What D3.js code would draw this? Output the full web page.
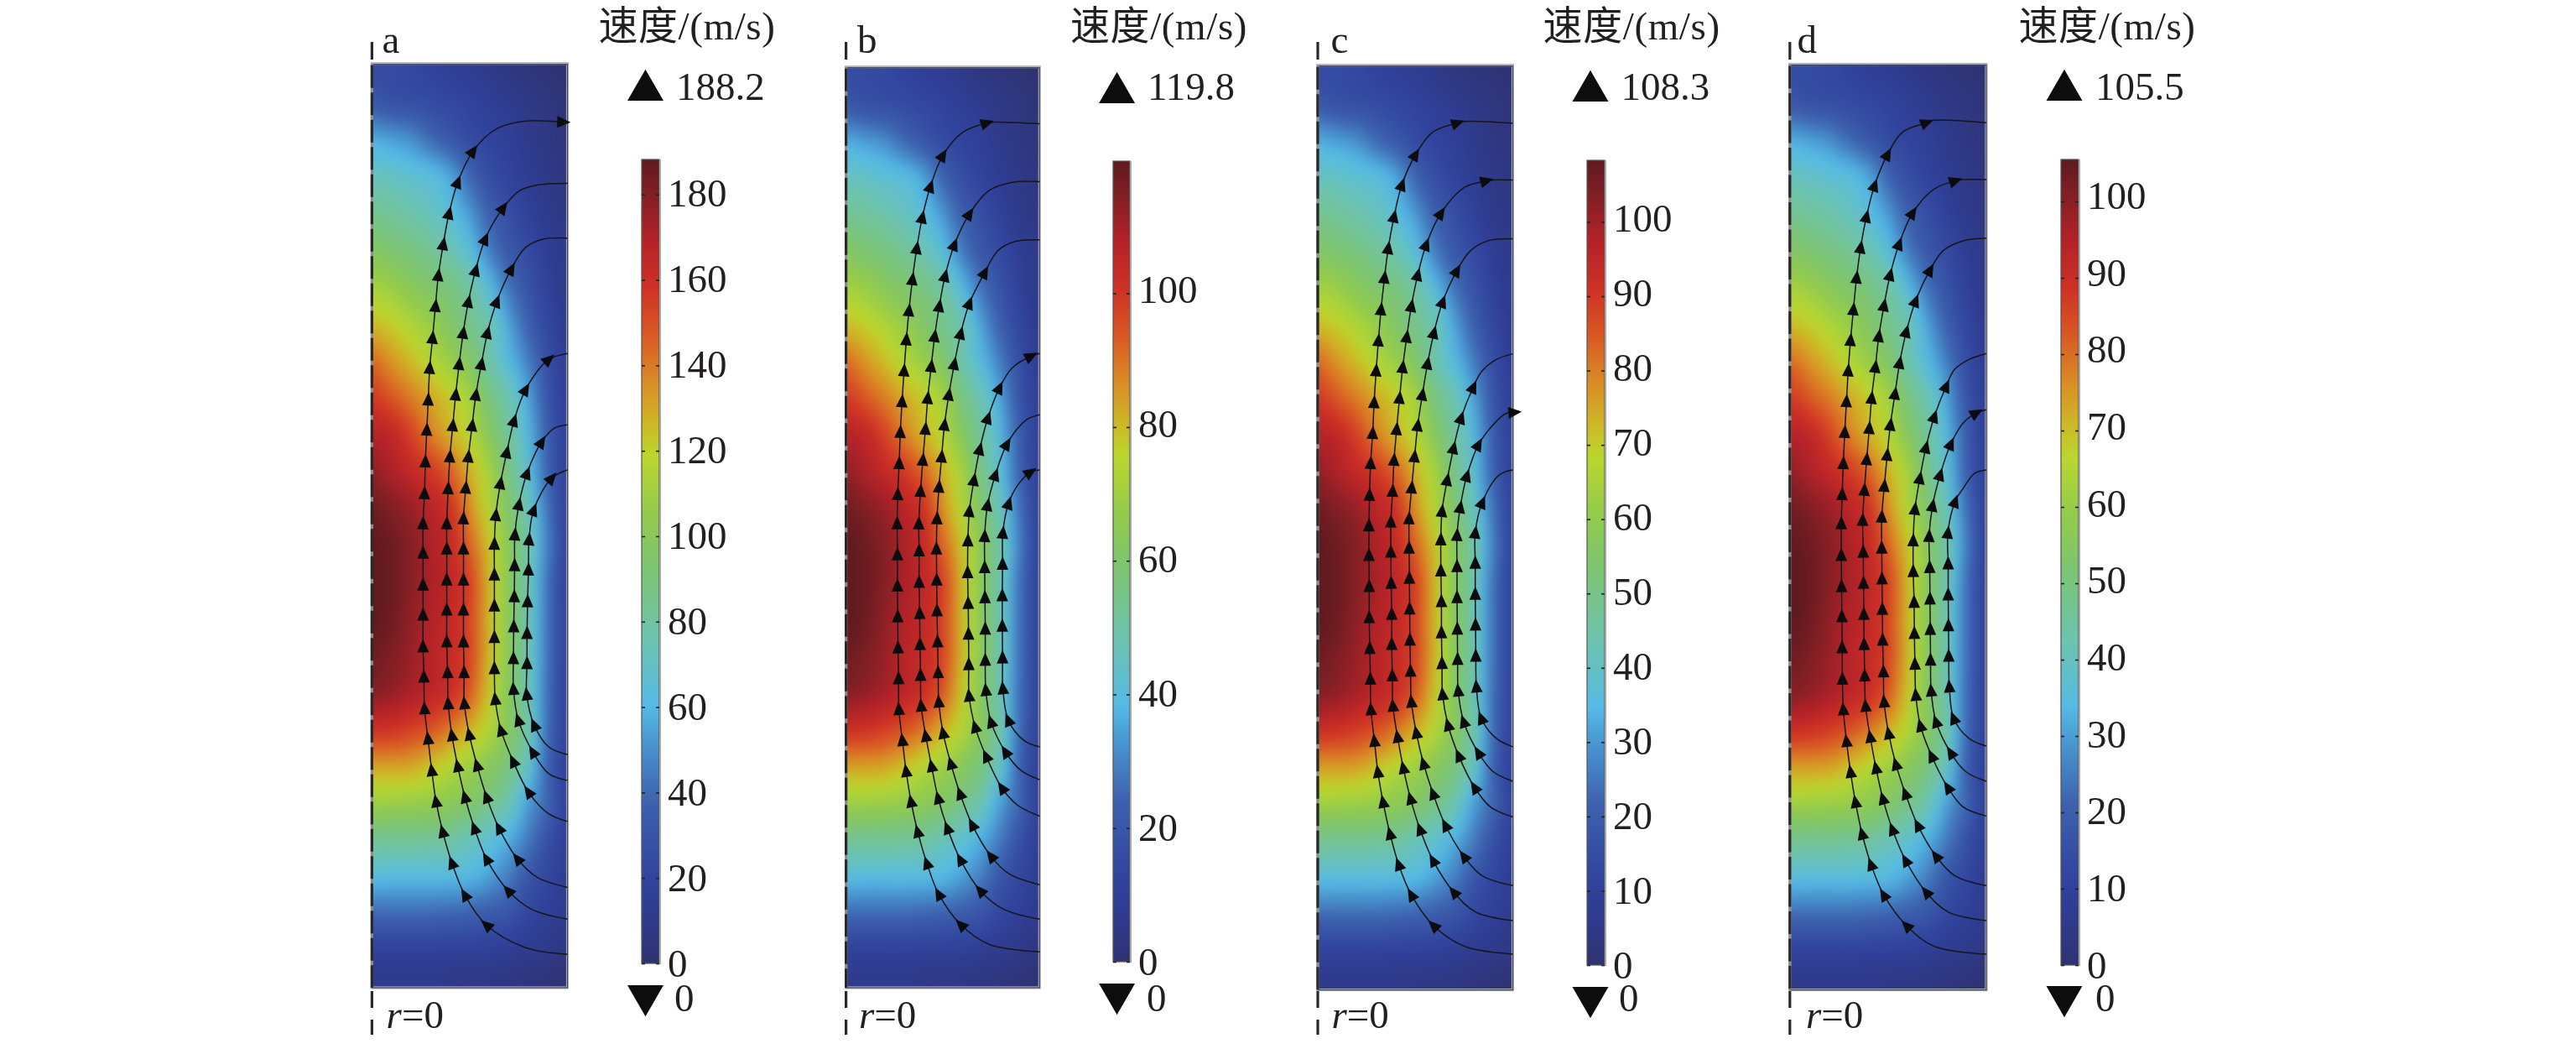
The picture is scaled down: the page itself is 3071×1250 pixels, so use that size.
<!DOCTYPE html>
<html>
<head>
<meta charset="utf-8">
<script src="https://cdnjs.cloudflare.com/ajax/libs/d3/7.8.5/d3.min.js"></script>
<style>
  html, body { margin: 0; padding: 0; background: #fff; }
  #stage { position: relative; width: 3071px; height: 1250px; overflow: hidden; }
  canvas, svg { position: absolute; left: 0; top: 0; }
  text { font-family: "Liberation Serif", "Noto Sans CJK SC", serif; fill: #231f20; }
</style>
</head>
<body>
<div id="stage"><canvas id="field" width="3071" height="1250"></canvas><svg id="plot" width="3071" height="1250"></svg></div>
<script>
// Four axisymmetric velocity fields, one per case.
const caseNames = ["a", "b", "c", "d"];
const caseMaxima = [188.2, 119.8, 108.3, 105.5];
const caseTicks = [
  [0, 20, 40, 60, 80, 100, 120, 140, 160, 180],
  [0, 20, 40, 60, 80, 100],
  [0, 10, 20, 30, 40, 50, 60, 70, 80, 90, 100],
  [0, 10, 20, 30, 40, 50, 60, 70, 80, 90, 100]
];
// Tick labels sit slightly above their ticks, more so toward the top of each bar.
const labelLift = [1, 4.5, 4.5, 7];

// Speed as a share of the case maximum: rows run down the axis, columns run away from r=0.
const speedShare = [
  [.13,.13,.12,.10,.08,.07,.05,.03,.02,.01,.00],
  [.17,.15,.14,.13,.115,.10,.08,.06,.04,.03,.01],
  [.30,.28,.26,.21,.17,.13,.105,.085,.055,.035,.02],
  [.38,.37,.35,.335,.29,.20,.14,.10,.07,.045,.03],
  [.445,.43,.41,.38,.34,.275,.19,.14,.09,.055,.035],
  [.517,.49,.47,.44,.40,.34,.24,.17,.125,.075,.05],
  [.59,.57,.53,.50,.47,.42,.33,.225,.155,.09,.05],
  [.665,.64,.605,.565,.51,.455,.40,.29,.19,.115,.06],
  [.76,.71,.665,.615,.57,.51,.41,.33,.24,.14,.07],
  [.83,.785,.74,.69,.645,.59,.47,.40,.29,.16,.08],
  [.895,.875,.815,.74,.68,.62,.525,.43,.325,.18,.09],
  [.94,.905,.87,.83,.77,.68,.59,.46,.35,.19,.09],
  [.98,.955,.93,.885,.845,.72,.615,.50,.385,.22,.10],
  [1.0,.98,.95,.905,.865,.77,.655,.53,.41,.24,.10],
  [1.0,.985,.95,.91,.875,.815,.67,.53,.40,.22,.10],
  [1.0,.98,.94,.90,.87,.81,.67,.53,.40,.22,.10],
  [.98,.96,.93,.89,.86,.81,.67,.53,.40,.22,.10],
  [.95,.935,.91,.88,.85,.78,.65,.52,.395,.215,.10],
  [.85,.84,.82,.79,.745,.68,.615,.52,.41,.21,.10],
  [.70,.70,.695,.66,.62,.58,.53,.47,.37,.19,.09],
  [.58,.575,.57,.56,.54,.51,.46,.40,.285,.20,.09],
  [.445,.44,.44,.435,.425,.39,.355,.305,.235,.15,.08],
  [.335,.33,.33,.33,.325,.32,.285,.24,.165,.115,.07],
  [.21,.21,.21,.21,.205,.195,.18,.16,.115,.085,.06],
  [.095,.095,.095,.095,.09,.09,.085,.075,.06,.05,.03],
  [.05,.05,.05,.05,.045,.04,.035,.03,.02,.01,.00]
];

// Colour ramp shared by the fields and the colour bars.
const rampStops = [0, .05, .10, .20, .28, .32, .40, .50, .56, .63, .67, .72, .78, .84, .90, .96, 1];
const rampColors = ["#2e3270", "#2f3a8a", "#30429c", "#3d61ae", "#4a9ad2", "#55bae6", "#6cc3b0",
  "#7fc56c", "#93cb4c", "#bad72e", "#cdb926", "#d98f25", "#d95a24", "#cf3125", "#b32228", "#7e1f24", "#5f1a1f"];

// Streamlines in reading units of [r, z]; a third element of 1 marks a flow arrow there.
const streamlinesA = [
  [[745,2853],[600,2833],[465,2766,1],[390,2676,1],[345,2580,1],[313,2486,1],[290,2396,1],[275,2303,1],[262,2208,1],[250,2118,1],[248,2023,1],[245,1933,1],[245,1838,1],[245,1748,1],[245,1653,1],[245,1565,1],[250,1475,1],[253,1380,1],[258,1285,1],[263,1195,1],[268,1100,1],[278,1010,1],[288,915,1],[298,823,1],[315,730,1],[335,638,1],[365,545,1],[418,452,1],[500,385],[600,362],[730,365,1]],
  [[745,2748],[620,2718],[540,2663,1],[465,2568,1],[423,2476,1],[390,2383,1],[365,2290,1],[345,2198,1],[332,2103,1],[330,2010,1],[327,1918,1],[327,1823,1],[327,1733,1],[327,1640,1],[327,1565,1],[332,1460,1],[338,1365,1],[348,1272,1],[358,1180,1],[370,1088,1],[384,995,1],[402,902,1],[427,808,1],[460,715,1],[522,622,1],[580,570],[650,552],[745,548]],
  [[745,2653],[640,2623],[572,2568,1],[508,2476,1],[465,2383,1],[432,2288,1],[405,2196,1],[388,2103,1],[387,2010,1],[385,1918,1],[385,1823,1],[385,1733,1],[385,1640,1],[385,1550,1],[393,1458,1],[402,1365,1],[415,1272,1],[428,1180,1],[447,1088,1],[468,995,1],[500,902,1],[550,805,1],[600,740],[660,715],[745,712]],
  [[745,2456],[680,2433],[610,2368,1],[557,2276,1],[515,2183,1],[495,2090,1],[492,1998,1],[492,1905,1],[492,1811,1],[492,1718,1],[492,1626,1],[497,1540,1],[513,1445,1],[535,1352,1],[560,1258,1],[600,1165,1],[680,1075,1],[745,1057]],
  [[745,2333],[680,2313],[625,2248,1],[575,2153,1],[558,2060,1],[558,1968,1],[559,1873,1],[561,1783,1],[562,1690,1],[563,1598,1],[577,1508,1],[605,1415,1],[655,1322,1],[700,1280],[745,1270]],
  [[745,2256],[680,2233],[630,2168,1],[604,2076,1],[605,1983,1],[605,1893,1],[607,1798,1],[610,1703,1],[612,1613,1],[628,1525,1],[690,1430,1],[745,1405]]
];
const streamlinesB = [
  [[695,2846],[520,2823],[423,2765,1],[346,2673,1],[305,2581,1],[273,2486,1],[250,2396,1],[233,2305,1],[220,2213,1],[208,2120,1],[207,2028,1],[205,1936,1],[204,1843,1],[203,1751,1],[203,1658,1],[202,1565,1],[204,1478,1],[209,1385,1],[213,1292,1],[219,1200,1],[226,1108,1],[234,1015,1],[243,928,1],[255,835,1],[270,742,1],[289,650,1],[317,558,1],[360,465,1],[430,395],[512,368,1],[540,365],[695,370]],
  [[695,2748],[570,2718],[490,2663,1],[421,2570,1],[376,2476,1],[344,2386,1],[321,2290,1],[301,2200,1],[285,2110,1],[283,2018,1],[281,1926,1],[280,1833,1],[278,1740,1],[278,1646,1],[277,1565,1],[283,1468,1],[291,1375,1],[300,1282,1],[308,1190,1],[320,1095,1],[332,1005,1],[348,915,1],[368,825,1],[400,732,1],[452,640,1],[520,570],[600,545],[695,543]],
  [[695,2645],[590,2613],[527,2560,1],[462,2466,1],[420,2373,1],[388,2283,1],[361,2191,1],[346,2098,1],[344,2010,1],[342,1918,1],[340,1825,1],[339,1733,1],[338,1640,1],[340,1550,1],[347,1455,1],[356,1365,1],[366,1270,1],[381,1180,1],[400,1088,1],[422,997,1],[452,907,1],[505,815,1],[550,750],[610,722],[695,717]],
  [[695,2440],[620,2408],[565,2356,1],[510,2261,1],[472,2173,1],[451,2080,1],[450,1986,1],[449,1895,1],[448,1803,1],[446,1711,1],[447,1616,1],[452,1528,1],[468,1435,1],[488,1343,1],[516,1250,1],[556,1160,1],[600,1100],[665,1065,1],[695,1057]],
  [[695,2331],[630,2303],[577,2248,1],[527,2158,1],[509,2063,1],[507,1973,1],[507,1880,1],[506,1786,1],[505,1696,1],[505,1603,1],[515,1510,1],[542,1420,1],[582,1328,1],[650,1255],[695,1240]],
  [[695,2233],[640,2213],[587,2153,1],[568,2058,1],[567,1966,1],[566,1871,1],[566,1780,1],[567,1686,1],[568,1593,1],[588,1505,1],[620,1450],[663,1412,1],[695,1405]]
];
const streamlinesC = [
  [[707,2853],[540,2830],[433,2768,1],[356,2676,1],[312,2585,1],[282,2493,1],[258,2398,1],[240,2308,1],[228,2215,1],[216,2121,1],[214,2030,1],[212,1938,1],[210,1846,1],[210,1753,1],[209,1660,1],[209,1571,1],[211,1480,1],[215,1385,1],[222,1295,1],[227,1203,1],[234,1108,1],[242,1018,1],[251,925,1],[263,830,1],[276,742,1],[296,648,1],[323,553,1],[370,463,1],[430,395],[515,368,1],[540,363],[707,368]],
  [[707,2753],[580,2728],[503,2668,1],[431,2573,1],[386,2480,1],[353,2388,1],[328,2296,1],[308,2203,1],[292,2110,1],[290,2020,1],[288,1926,1],[288,1836,1],[286,1743,1],[285,1650,1],[285,1560,1],[291,1468,1],[296,1375,1],[305,1283,1],[315,1190,1],[326,1098,1],[340,1007,1],[356,915,1],[378,822,1],[407,732,1],[458,638,1],[540,560],[615,541,1],[640,538],[707,538]],
  [[707,2648],[600,2618],[538,2561,1],[474,2468,1],[431,2373,1],[398,2283,1],[373,2191,1],[356,2098,1],[353,2006,1],[351,1913,1],[350,1820,1],[349,1728,1],[348,1638,1],[348,1550,1],[357,1458,1],[367,1365,1],[378,1272,1],[394,1180,1],[412,1087,1],[434,995,1],[464,903,1],[513,810,1],[560,750],[620,720],[707,714]],
  [[707,2443],[630,2413],[575,2355,1],[520,2260,1],[483,2168,1],[464,2076,1],[462,1983,1],[460,1891,1],[460,1798,1],[458,1706,1],[458,1613,1],[462,1528,1],[480,1435,1],[502,1340,1],[528,1250,1],[570,1158,1],[600,1110],[650,1075],[707,1058]],
  [[707,2336],[640,2308],[588,2251,1],[537,2158,1],[518,2065,1],[516,1971,1],[515,1880,1],[514,1786,1],[514,1693,1],[514,1600,1],[525,1517,1],[548,1423,1],[588,1330,1],[650,1260],[685,1236],[712,1233,1],[722,1233]],
  [[707,2233],[650,2208],[598,2148,1],[581,2053,1],[579,1961,1],[578,1868,1],[577,1776,1],[577,1683,1],[577,1593,1],[601,1503,1],[660,1420],[707,1405]]
];
const streamlinesD = [
  [[720,2853],[540,2830],[444,2768,1],[365,2676,1],[321,2585,1],[290,2493,1],[267,2398,1],[250,2308,1],[236,2216,1],[225,2121,1],[222,2030,1],[221,1936,1],[220,1843,1],[219,1753,1],[218,1660,1],[218,1565,1],[221,1478,1],[225,1385,1],[230,1292,1],[236,1200,1],[242,1108,1],[250,1017,1],[260,925,1],[271,830,1],[285,740,1],[305,648,1],[333,555,1],[378,462,1],[430,395],[513,367,1],[535,360],[720,367]],
  [[720,2753],[590,2728],[512,2668,1],[441,2573,1],[395,2480,1],[362,2388,1],[338,2296,1],[318,2203,1],[302,2111,1],[299,2020,1],[297,1926,1],[296,1836,1],[295,1743,1],[294,1650,1],[292,1555,1],[298,1465,1],[306,1373,1],[315,1280,1],[323,1190,1],[336,1097,1],[348,1005,1],[366,913,1],[387,822,1],[418,730,1],[465,637,1],[540,565],[612,541,1],[640,537],[720,537]],
  [[720,2648],[610,2618],[546,2560,1],[483,2468,1],[440,2373,1],[407,2285,1],[382,2193,1],[366,2098,1],[364,2008,1],[361,1913,1],[360,1821,1],[359,1730,1],[358,1638,1],[358,1545,1],[367,1453,1],[377,1360,1],[388,1270,1],[404,1177,1],[420,1085,1],[443,992,1],[475,900,1],[525,808,1],[570,750],[640,720],[720,712]],
  [[720,2440],[640,2413],[587,2355,1],[531,2261,1],[492,2170,1],[476,2078,1],[473,1985,1],[471,1893,1],[470,1800,1],[467,1708,1],[467,1616,1],[473,1522,1],[490,1430,1],[511,1338,1],[540,1246,1],[581,1155,1],[610,1105],[660,1075],[720,1057]],
  [[720,2336],[650,2308],[597,2251,1],[546,2158,1],[529,2065,1],[527,1973,1],[526,1881,1],[525,1790,1],[524,1696,1],[522,1603,1],[534,1512,1],[560,1420,1],[597,1328,1],[640,1265],[685,1235,1],[720,1225]],
  [[720,2231],[660,2208],[607,2148,1],[592,2053,1],[590,1961,1],[589,1870,1],[588,1778,1],[588,1685,1],[587,1593,1],[612,1500,1],[640,1460],[680,1415],[720,1405]]
];
const caseStreamlines = [streamlinesA, streamlinesB, streamlinesC, streamlinesD];
const readingR = [[68, 745], [25, 695], [32, 707], [40, 720]];
const readingZ = [[190, 2953], [200, 2953], [195, 2960], [192, 2960]];

// Page layout of each case.
const layout = [
  { x0: 443.4, x1: 676.5, y0: 75.7, y1: 1177, barX0: 765, barX1: 786, barY0: 190, barY1: 1148,
    triX: 769.5, upBase: 120, downTop: 1174, valueX: 806, zeroX: 804, titleX: 713.4, letterX: 455.5, rX: 460.6 },
  { x0: 1008.6, x1: 1239.3, y0: 79.7, y1: 1177, barX0: 1327, barX1: 1347, barY0: 192, barY1: 1146,
    triX: 1331.6, upBase: 123, downTop: 1172, valueX: 1368, zeroX: 1367, titleX: 1276, letterX: 1022, rX: 1024 },
  { x0: 1571, x1: 1803.5, y0: 77.7, y1: 1179.6, barX0: 1892, barX1: 1913, barY0: 191, barY1: 1150,
    triX: 1896, upBase: 121, downTop: 1176, valueX: 1932.6, zeroX: 1930, titleX: 1839.6, letterX: 1586.5, rX: 1587.5 },
  { x0: 2133.8, x1: 2368, y0: 76.5, y1: 1179.6, barX0: 2457, barX1: 2478, barY0: 190, barY1: 1150,
    triX: 2461, upBase: 120, downTop: 1175, valueX: 2498, zeroX: 2498, titleX: 2406.5, letterX: 2142.4, rX: 2153 }
];

const FONT = 47;
const PAD = 30;
const share = d3.scaleLinear().domain(rampStops).range(rampColors).interpolate(d3.interpolateRgb).clamp(true);
const lut = d3.range(1025).map(i => d3.rgb(share(i / 1024)));

// Catmull-Rom weights for smooth resampling of the speed grid.
function cubic(p0, p1, p2, p3, f) {
  return p1 + 0.5 * f * (p2 - p0 + f * (2 * p0 - 5 * p1 + 4 * p2 - p3 + f * (3 * (p1 - p2) + p3 - p0)));
}
function sampleShare(u, v) {
  u = Math.max(0, Math.min(1, u));
  v = Math.max(0, Math.min(1, v));
  const nr = speedShare.length, nc = speedShare[0].length;
  const fy = v * (nr - 1), fx = u * (nc - 1);
  const iy = Math.min(nr - 2, Math.floor(fy)), ix = Math.min(nc - 2, Math.floor(fx));
  const ty = fy - iy, tx = fx - ix;
  const col = [];
  for (let k = -1; k <= 2; k++) {
    const row = speedShare[Math.max(0, Math.min(nr - 1, iy + k))];
    col.push(cubic(row[Math.max(0, ix - 1)], row[ix], row[ix + 1], row[Math.min(nc - 1, ix + 2)], tx));
  }
  return cubic(col[0], col[1], col[2], col[3], ty);
}

const ctx = document.getElementById("field").getContext("2d");
const svg = d3.select("#plot");
const lineGen = d3.line().curve(d3.curveCatmullRom.alpha(0.5));

caseNames.forEach((name, c) => {
  const L = layout[c], maxV = caseMaxima[c];

  // Speed field raster, painted with a margin so smoothing stays even at the panel edges
  const px0 = Math.round(L.x0), px1 = Math.round(L.x1), py0 = Math.round(L.y0), py1 = Math.round(L.y1);
  const w = px1 - px0, h = py1 - py0;
  const off = document.createElement("canvas");
  off.width = w + 2 * PAD; off.height = h + 2 * PAD;
  const offCtx = off.getContext("2d");
  const img = offCtx.createImageData(off.width, off.height);
  for (let y = 0; y < off.height; y++) {
    for (let x = 0; x < off.width; x++) {
      const speed = sampleShare((x - PAD) / (w - 1), (y - PAD) / (h - 1)) * maxV;
      const s = Math.max(0, Math.min(1, speed / maxV));
      const col = lut[Math.round(s * 1024)];
      const i = (y * off.width + x) * 4;
      img.data[i] = col.r; img.data[i + 1] = col.g; img.data[i + 2] = col.b; img.data[i + 3] = 255;
    }
  }
  offCtx.putImageData(img, 0, 0);
  ctx.save();
  ctx.beginPath(); ctx.rect(px0, py0, w, h); ctx.clip();
  ctx.filter = "blur(7px)";
  ctx.drawImage(off, px0 - PAD, py0 - PAD);
  ctx.restore();

  const g = svg.append("g");
  const rScale = d3.scaleLinear().domain(readingR[c]).range([L.x0, L.x1]);
  const zScale = d3.scaleLinear().domain(readingZ[c]).range([L.y0, L.y1]);

  // Panel frame with its soft grey edge
  g.append("rect").attr("x", L.x0).attr("y", L.y0).attr("width", L.x1 - L.x0).attr("height", L.y1 - L.y0)
    .attr("fill", "none").attr("stroke", "#b4b4b8").attr("stroke-width", 3.2);
  g.append("rect").attr("x", L.x0).attr("y", L.y0 + 1).attr("width", L.x1 - L.x0).attr("height", L.y1 - L.y0 - 1)
    .attr("fill", "none").attr("stroke", "#3d4160").attr("stroke-width", 1.2);

  // Streamlines and their arrows
  caseStreamlines[c].forEach(line => {
    const pts = line.map(p => [rScale(p[0]), zScale(p[1])]);
    g.append("path").attr("d", lineGen(pts)).attr("fill", "none").attr("stroke", "#15161c").attr("stroke-width", 1.5);
    line.forEach((p, i) => {
      if (!p[2]) return;
      const a = pts[Math.max(0, i - 1)], b = pts[Math.min(pts.length - 1, i + 1)];
      const angle = Math.atan2(b[1] - a[1], b[0] - a[0]) * 180 / Math.PI + 90;
      g.append("path").attr("d", "M0,-9 L7,7 L-7,7 Z").attr("fill", "#0c0c0e")
        .attr("transform", `translate(${pts[i][0]},${pts[i][1]}) rotate(${angle})`);
    });
  });

  // Symmetry axis r=0: single dashes outside the panel, long dashes along its edge
  const axisX = L.x0;
  const axisStroke = s => s.attr("x1", axisX).attr("x2", axisX).attr("stroke", "#2a2a2a").attr("stroke-width", 3.2);
  g.append("line").attr("x1", axisX).attr("x2", axisX).attr("y1", L.y0).attr("y2", L.y1)
    .attr("stroke", "#8a8a8a").attr("stroke-width", 3);
  g.append("line").attr("y1", 50).attr("y2", 71).call(axisStroke);
  g.append("line").attr("y1", L.y0 + 2).attr("y2", L.y1).attr("stroke-dasharray", "27 5.5").call(axisStroke);
  g.append("line").attr("y1", 1181).attr("y2", 1201).call(axisStroke);
  g.append("line").attr("y1", 1215).attr("y2", 1233).call(axisStroke);

  // Colour bar
  const gradId = "ramp" + name;
  const grad = svg.append("defs").append("linearGradient").attr("id", gradId)
    .attr("x1", 0).attr("x2", 0).attr("y1", 1).attr("y2", 0);
  rampStops.forEach((s, i) => grad.append("stop").attr("offset", s).attr("stop-color", rampColors[i]));
  const barY = d3.scaleLinear().domain([0, maxV]).range([L.barY1, L.barY0]);
  g.append("rect").attr("x", L.barX0).attr("y", L.barY0).attr("width", L.barX1 - L.barX0).attr("height", L.barY1 - L.barY0)
    .attr("fill", `url(#${gradId})`);
  g.append("rect").attr("x", L.barX0).attr("y", L.barY0).attr("width", L.barX1 - L.barX0).attr("height", L.barY1 - L.barY0)
    .attr("fill", "none").attr("stroke", "#555").attr("stroke-width", 1.2);
  g.append("line").attr("x1", L.barX1 + 1).attr("x2", L.barX1 + 1).attr("y1", L.barY0).attr("y2", L.barY1 + 1)
    .attr("stroke", "#a8a8a8").attr("stroke-width", 2);

  const axisG = g.append("g").attr("transform", `translate(${L.barX1},0)`)
    .call(d3.axisRight(barY).tickValues(caseTicks[c]).tickSize(0).tickPadding(10));
  axisG.select(".domain").remove();
  axisG.selectAll("text").attr("font-size", FONT).attr("font-family", null)
    .attr("y", d => -labelLift[c] * d / maxV);
  axisG.selectAll(".tick").append("line").attr("x1", 0).attr("x2", -4).attr("stroke", "#222").attr("stroke-width", 1.6);
  axisG.selectAll(".tick").append("line").attr("x1", -(L.barX1 - L.barX0)).attr("x2", -(L.barX1 - L.barX0) + 4)
    .attr("stroke", "#222").attr("stroke-width", 1.6);

  // Legend and labels
  const tri = d3.symbol().type(d3.symbolTriangle).size(800)();
  g.append("path").attr("d", tri).attr("fill", "#0d0d0d").attr("transform", `translate(${L.triX},${L.upBase - 12.4})`);
  g.append("path").attr("d", tri).attr("fill", "#0d0d0d").attr("transform", `translate(${L.triX},${L.downTop + 12.4}) rotate(180)`);
  const addText = (x, y, t) => g.append("text").attr("x", x).attr("y", y).attr("font-size", FONT).text(t);
  addText(L.titleX, 47, "速度/(m/s)").attr("letter-spacing", 0.6);
  addText(L.valueX, 119, maxV.toFixed(1));
  addText(L.zeroX, 1205, "0");
  addText(L.letterX, 63, name);
  const rLabel = addText(L.rX, 1225, "");
  rLabel.append("tspan").attr("font-style", "italic").text("r");
  rLabel.append("tspan").text("=0");
});
</script>
</body>
</html>
